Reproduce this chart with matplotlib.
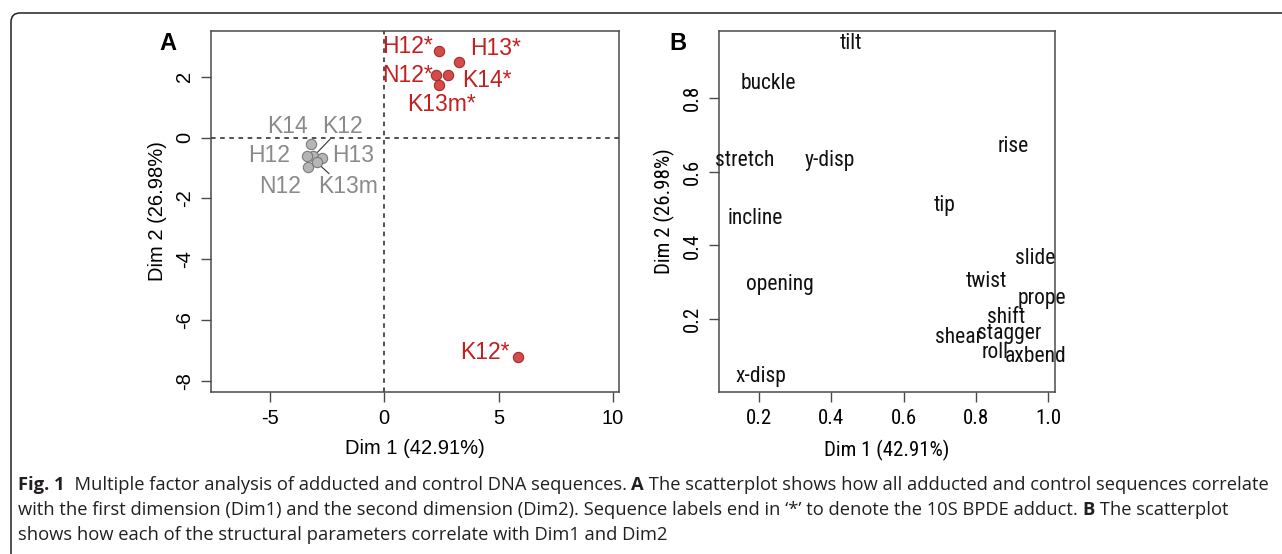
import matplotlib
matplotlib.use("Agg")
import matplotlib.pyplot as plt
from matplotlib.patches import FancyBboxPatch
from matplotlib import font_manager

# ---- Panel A data ----
adduct_labels = ["H12*", "H13*", "N12*", "K14*", "K13m*", "K12*"]
adduct_x = [2.41, 3.25, 2.26, 2.80, 2.39, 5.84]
adduct_y = [2.85, 2.48, 2.06, 2.06, 1.72, -7.21]

control_labels = ["K14", "K12", "H12", "H13", "N12", "K13m"]
control_x = [-3.21, -3.10, -3.38, -2.74, -3.35, -2.96]
control_y = [-0.22, -0.62, -0.60, -0.67, -0.95, -0.81]

# ---- Panel B data ----
param_labels = ["tilt", "buckle", "stretch", "y-disp", "rise", "tip", "incline",
                "slide", "twist", "opening", "prope", "shift", "stagger",
                "shear", "roll", "axbend", "x-disp"]
param_x = [0.454, 0.226, 0.160, 0.397, 0.902, 0.713, 0.190, 0.964, 0.829,
           0.259, 0.983, 0.884, 0.891, 0.753, 0.854, 0.965, 0.206]
param_y = [0.947, 0.839, 0.629, 0.631, 0.667, 0.509, 0.473, 0.365, 0.303,
           0.294, 0.256, 0.206, 0.161, 0.150, 0.111, 0.099, 0.044]

xticks_a = [-5, 0, 5, 10]
yticks_a = [-8, -6, -4, -2, 0, 2]
xticks_b = [0.2, 0.4, 0.6, 0.8, 1.0]
yticks_b = [0.2, 0.4, 0.6, 0.8]

W, H = 1282, 554
fig = plt.figure(figsize=(W / 100, H / 100), dpi=100)
fig.patch.set_facecolor("white")

installed = {f.name for f in font_manager.fontManager.ttflist}
FONT = "Liberation Sans"
NARROW = FONT
for cand in ["Liberation Sans Narrow", "Arial Narrow", "Roboto Condensed",
             "Open Sans Condensed"]:
    if cand in installed:
        NARROW = cand
        break

def px_axes(l, t, r, b):
    return fig.add_axes([l / W, 1 - b / H, (r - l) / W, (b - t) / H])

frame_col = "#4a4a4a"

def style_axes(ax, fam, ticksize):
    for s in ax.spines.values():
        s.set_color(frame_col)
        s.set_linewidth(1.1)
    ax.tick_params(direction="out", length=7, width=1.0, color=frame_col,
                   labelsize=ticksize, pad=5)
    for lab in ax.get_xticklabels() + ax.get_yticklabels():
        lab.set_family(fam)
    for lab in ax.get_yticklabels():
        lab.set_rotation(90)
        lab.set_va("center")

# ---- Panel A ----
axA = px_axes(211, 31, 619, 392)
axA.set_xlim(-7.58, 10.27)
axA.set_ylim(-8.37, 3.51)
axA.axhline(0, color="#222222", ls=(0, (3, 3)), lw=1.1)
axA.axvline(0, color="#222222", ls=(0, (3, 3)), lw=1.1)
axA.set_xticks(xticks_a)
axA.set_yticks(yticks_a)
axA.set_xticklabels([str(v) for v in xticks_a])
axA.set_yticklabels([str(v) for v in yticks_a])
style_axes(axA, FONT, 14.5)

axA.scatter(control_x, control_y, s=55, c="#b5b5b5", edgecolors="#7a7a7a",
            linewidths=0.8, zorder=3)
axA.scatter(adduct_x, adduct_y, s=55, c="#d44b4b", edgecolors="#a52a2a",
            linewidths=0.8, zorder=3)

red_txt = "#c41e1e"
gray_txt = "#8a8a8a"
fsA = 16.5
a_off = {"H12*": (-5, 3, "right"), "H13*": (8, 10, "left"),
         "N12*": (-2, 0, "right"), "K14*": (10, -4, "left"),
         "K13m*": (2, -14, "center"), "K12*": (-6, 3, "right")}
for lab, x, y in zip(adduct_labels, adduct_x, adduct_y):
    dx, dy, ha = a_off[lab]
    axA.annotate(lab, (x, y), xytext=(dx, dy), textcoords="offset points",
                 ha=ha, va="center", color=red_txt, fontsize=fsA, family=FONT,
                 zorder=4)

c_pos = {"K14": (-4.25, 0.36), "K12": (-1.85, 0.36), "H12": (-5.05, -0.60),
         "H13": (-1.35, -0.60), "N12": (-4.55, -1.60), "K13m": (-1.6, -1.60)}
for lab, x, y in zip(control_labels, control_x, control_y):
    tx, ty = c_pos[lab]
    axA.text(tx, ty, lab, ha="center", va="center", color=gray_txt,
             fontsize=fsA, family=FONT, zorder=4)
axA.plot([control_x[1], -2.37], [control_y[1], -0.05], color="#333333", lw=0.8, zorder=2)
axA.plot([control_x[5], -2.42], [control_y[5], -1.18], color="#333333", lw=0.8, zorder=2)

axA.set_xlabel("Dim 1 (42.91%)", fontsize=14.5, family=FONT, labelpad=8)
axA.set_ylabel("Dim 2 (26.98%)", fontsize=14.5, family=FONT, labelpad=6)
fig.text(168 / W, 1 - 43 / H, "A", fontsize=17, fontweight="bold", family=FONT,
         ha="center", va="center")

# ---- Panel B ----
narrow = NARROW != FONT
fsB = 15.5 if narrow else 14.5
axB = px_axes(719, 31, 1055, 392)
axB.set_xlim(0.090, 1.018)
axB.set_ylim(0.003, 0.981)
axB.set_xticks(xticks_b)
axB.set_yticks(yticks_b)
axB.set_xticklabels([f"{v:.1f}" for v in xticks_b])
axB.set_yticklabels([f"{v:.1f}" for v in yticks_b])
style_axes(axB, NARROW, 15 if narrow else 14.5)
for lab, x, y in zip(param_labels, param_x, param_y):
    axB.text(x, y, lab, ha="center", va="center", fontsize=fsB, family=NARROW,
             color="#111111", clip_on=False)
axB.set_xlabel("Dim 1 (42.91%)", fontsize=15 if narrow else 14.5, family=NARROW, labelpad=9)
axB.set_ylabel("Dim 2 (26.98%)", fontsize=15 if narrow else 14.5, family=NARROW, labelpad=6)
fig.text(678 / W, 1 - 43 / H, "B", fontsize=17, fontweight="bold", family=FONT,
         ha="center", va="center")

# ---- frame ----
frame = FancyBboxPatch((0.11, -1.0), 14.0, (H - 13) / 100 + 1.0,
                       boxstyle="round,pad=0,rounding_size=0.09",
                       transform=fig.dpi_scale_trans, fill=False,
                       ec="#231f20", lw=1.1, clip_on=False)
fig.add_artist(frame)

# ---- caption ----
cap_font = "Open Sans"
cap_col = "#231f20"
lines = [
    [("Fig. 1", True), ("  Multiple factor analysis of adducted and control DNA sequences. ", False),
     ("A", True), (" The scatterplot shows how all adducted and control sequences correlate", False)],
    [("with the first dimension (Dim1) and the second dimension (Dim2). Sequence labels end in \u2018*\u2019 to denote the 10S BPDE adduct. ", False),
     ("B", True), (" The scatterplot", False)],
    [("shows how each of the structural parameters correlate with Dim1 and Dim2", False)],
]
baselines = [490, 515, 540]
renderer = fig.canvas.get_renderer()

def seg_width(txt, bold, fs):
    t = fig.text(0, 0, txt.replace(" ", "\u00a0"), fontsize=fs, family=cap_font,
                 fontweight="bold" if bold else "normal", fontstretch="semi-condensed")
    w = t.get_window_extent(renderer).width
    t.remove()
    return w

base_fs = 12.0
w1 = sum(seg_width(t, b, base_fs) for t, b in lines[0])
cap_fs = base_fs * (1262 - 18) / w1
cap_fs = min(cap_fs, 14.0)

for segs, yy in zip(lines, baselines):
    x = 18.0
    for txt, bold in segs:
        t = fig.text(x / W, 1 - yy / H, txt.replace(" ", "\u00a0"), fontsize=cap_fs,
                     family=cap_font, color=cap_col,
                     fontweight="bold" if bold else "normal",
                     fontstretch="semi-condensed", va="baseline", ha="left")
        x += t.get_window_extent(renderer).width

fig.savefig("out.png", dpi=100)
